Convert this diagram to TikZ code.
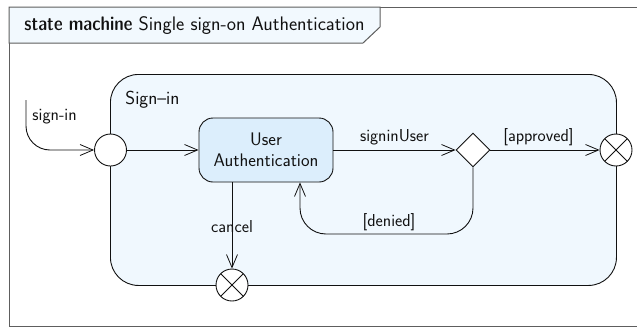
\documentclass[tikz,border=0pt]{standalone}
\usetikzlibrary{arrows.meta,shapes.geometric}
\renewcommand{\familydefault}{\sfdefault}
\definecolor{tabfill}{HTML}{F2F9FE}
\definecolor{regfill}{HTML}{F0F8FE}
\definecolor{uafill}{HTML}{DCEEFC}
\definecolor{ink}{HTML}{111111}
\definecolor{framec}{HTML}{5E5E5E}
\begin{document}
\begin{tikzpicture}[x=1pt,y=-1pt, line width=0.9pt,
  arr/.style={draw=ink, -{Straight Barb[length=13pt,width=11pt,line width=0.8pt]}},
  lbl/.style={font=\fontsize{17.3}{20}\selectfont, text=ink, inner sep=0pt},
  pseudo/.style={circle, draw=ink, fill=white, minimum size=32pt, inner sep=0pt},
  exitpt/.style={pseudo, path picture={\draw[ink, line width=0.9pt]
     (path picture bounding box.north west) -- (path picture bounding box.south east)
     (path picture bounding box.north east) -- (path picture bounding box.south west);}},
  statebox/.style={draw=ink, fill=uafill, rounded corners=14pt, align=center,
     font=\fontsize{18.2}{20.5}\selectfont, text=ink, inner sep=0pt}
  ]
\useasboundingbox (0,0) rectangle (637,327);
% frame
\draw[framec, line width=1pt] (9,7) rectangle (680,326);
\draw[framec, line width=1pt, fill=tabfill] (9,7) -- (380,7) -- (380,27) -- (363,43) -- (9,43) -- cycle;
\node[anchor=west, font=\fontsize{19.6}{22}\selectfont, text=ink, inner sep=0pt] (title) at (24,25.5)
  {{\fontseries{sbc}\selectfont state machine} Single sign-on Authentication};
% composite state
\node[draw=ink, fill=regfill, rounded corners=28pt, minimum width=506pt, minimum height=211pt,
  inner sep=0pt, anchor=north west] (reg) at (110,74) {};
\node[anchor=west, font=\fontsize{18.8}{21}\selectfont, text=ink, inner sep=0pt] (regname) at (125,100) {Sign--in};
% states and pseudo states
\node[pseudo] (entry) at (110.5,150) {};
\node[statebox, minimum width=134pt, minimum height=64pt] (ua) at (266,150) {User\\Authentication};
\node[diamond, draw=ink, fill=white, minimum size=34pt, inner sep=0pt] (dia) at (473,150) {};
\node[exitpt] (exr) at (616,150) {};
\node[exitpt] (exb) at (232,285) {};
% transitions
\coordinate (src) at (26,100);
\draw[arr, rounded corners=24pt] (src) |- (entry.west);
\node[lbl, anchor=west] (lsignin) at (32,117) {sign-in};
\draw[arr] (entry) -- (ua);
\draw[arr] (ua) -- node[lbl, pos=0.5, above=5pt] (lsu) {signinUser} (dia);
\draw[arr] (dia) -- node[lbl, pos=0.44, above=4pt] (lap) {[approved]} (exr);
\draw[arr] (ua.south -| exb) -- node[lbl, pos=0.51] (lcan) {cancel} (exb);
\coordinate (dn) at (300,234);
\draw[arr, rounded corners=26pt] (dia.south) |- (dn) -- (ua.south -| dn);
\node[lbl] (lden) at (389,222) {[denied]};
\end{tikzpicture}
\end{document}
